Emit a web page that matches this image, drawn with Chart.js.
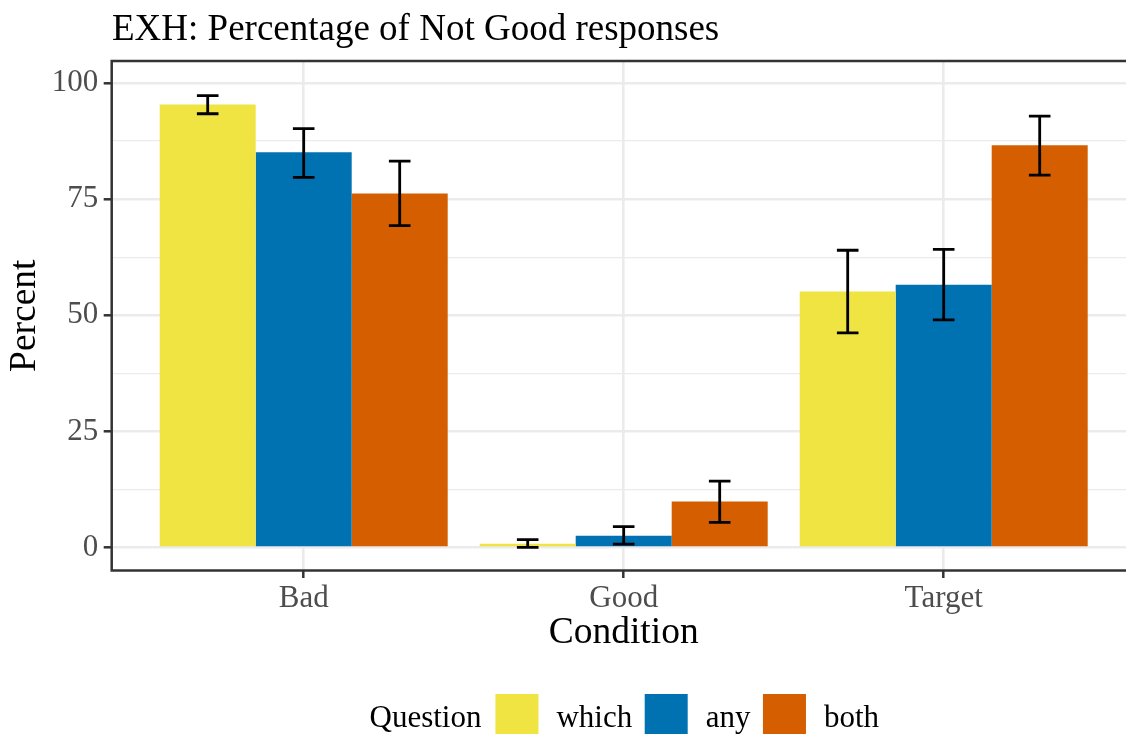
<!DOCTYPE html>
<html>
<head>
<meta charset="utf-8">
<script src="https://cdn.jsdelivr.net/npm/chart.js@4.4.1/dist/chart.umd.min.js"></script>
<style>
  html, body { margin: 0; padding: 0; background: #fff; overflow: hidden; }
  #wrap { position: relative; width: 1140px; height: 750px; }
</style>
</head>
<body>
<div id="wrap"><canvas id="exhChart"></canvas></div>
<script>
const conditions = ['Bad', 'Good', 'Target'];
const questions = ['which', 'any', 'both'];

// percent "Not Good" per condition, with lower / upper error limits
const whichPct = [95.4, 0.8, 55.1];
const whichLow = [93.4, 0.0, 46.2];
const whichHigh = [97.3, 1.7, 64.0];

const anyPct = [85.1, 2.5, 56.6];
const anyLow = [79.7, 0.7, 49.0];
const anyHigh = [90.2, 4.5, 64.2];

const bothPct = [76.2, 9.9, 86.6];
const bothLow = [69.3, 5.4, 80.2];
const bothHigh = [83.2, 14.3, 92.9];

const yTicks = [0, 12.5, 25, 37.5, 50, 62.5, 75, 87.5, 100];

const serif = '"Liberation Serif", "DejaVu Serif", serif';
const colors = ['#F0E442', '#0072B2', '#D55E00'];

function series(label, values, low, high, color) {
  return {
    label: label,
    data: values.map((v, i) => ({ x: i + 1, y: v })),
    errLow: low,
    errHigh: high,
    backgroundColor: color,
    borderWidth: 0,
    categoryPercentage: 0.9,
    barPercentage: 1.0
  };
}

const isMajor = (c) => !c.tick || c.tick.value % 25 === 0;

// black error bars with caps on top of every bar
const errorBars = {
  id: 'errorBars',
  afterDatasetsDraw(chart) {
    const ctx = chart.ctx;
    const y = chart.scales.y;
    ctx.save();
    ctx.strokeStyle = '#000';
    ctx.lineWidth = 2.8;
    ctx.lineCap = 'butt';
    chart.data.datasets.forEach((ds, i) => {
      chart.getDatasetMeta(i).data.forEach((bar, j) => {
        const top = y.getPixelForValue(ds.errHigh[j]);
        const bot = y.getPixelForValue(ds.errLow[j]);
        const half = 10.8;
        ctx.beginPath();
        ctx.moveTo(bar.x, top);
        ctx.lineTo(bar.x, bot);
        ctx.moveTo(bar.x - half, top);
        ctx.lineTo(bar.x + half, top);
        ctx.moveTo(bar.x - half, bot);
        ctx.lineTo(bar.x + half, bot);
        ctx.stroke();
      });
    });
    ctx.restore();
  }
};

// panel border, plot title and the horizontal legend below
const decorations = {
  id: 'decorations',
  afterDraw(chart) {
    const ctx = chart.ctx;
    const a = chart.chartArea;
    ctx.save();
    ctx.strokeStyle = '#333333';
    ctx.lineWidth = 2.5;
    ctx.strokeRect(a.left, a.top, a.right - a.left, a.bottom - a.top);

    ctx.fillStyle = '#000';
    ctx.textAlign = 'left';
    ctx.textBaseline = 'alphabetic';
    ctx.font = '37px ' + serif;
    ctx.fillText('EXH: Percentage of Not Good responses', 112, 40);

    ctx.font = '31px ' + serif;
    const keySize = 43;
    const keyTop = 694;
    const baseline = 727;
    let cx = 369.5;
    ctx.fillText('Question', cx, baseline);
    cx += ctx.measureText('Question').width + 14;
    chart.data.datasets.forEach((ds) => {
      ctx.fillStyle = ds.backgroundColor;
      ctx.fillRect(cx, keyTop, keySize, keySize);
      cx += keySize + 18;
      ctx.fillStyle = '#000';
      ctx.fillText(ds.label, cx, baseline);
      cx += ctx.measureText(ds.label).width + 12.5;
    });
    ctx.restore();
  }
};

new Chart(document.getElementById('exhChart'), {
  type: 'bar',
  data: {
    datasets: [
      series(questions[0], whichPct, whichLow, whichHigh, colors[0]),
      series(questions[1], anyPct, anyLow, anyHigh, colors[1]),
      series(questions[2], bothPct, bothLow, bothHigh, colors[2])
    ]
  },
  options: {
    responsive: true,
    maintainAspectRatio: false,
    animation: false,
    layout: { padding: { top: 61, left: 0, right: 4.3, bottom: 0 } },
    plugins: {
      legend: { display: false },
      title: { display: false },
      tooltip: { enabled: false }
    },
    scales: {
      x: {
        type: 'linear',
        min: 0.4,
        max: 3.6,
        offset: false,
        afterBuildTicks: (s) => { s.ticks = conditions.map((c, i) => ({ value: i + 1 })); },
        afterFit: (s) => { s.height = 179.5; },
        border: { display: false },
        grid: {
          offset: false,
          color: '#EBEBEB',
          lineWidth: 2.6,
          tickLength: 7.5,
          tickColor: '#333333',
          tickWidth: 2.5
        },
        ticks: {
          autoSkip: false,
          maxRotation: 0,
          padding: 4,
          color: '#4D4D4D',
          font: { family: serif, size: 31, lineHeight: 1.1 },
          callback: (v) => conditions[v - 1]
        },
        title: {
          display: true,
          text: 'Condition',
          color: '#000',
          font: { family: serif, size: 37.5, lineHeight: 1.2 },
          padding: { top: 0, bottom: 94 }
        }
      },
      y: {
        min: -4.96,
        max: 104.76,
        afterBuildTicks: (s) => { s.ticks = yTicks.map((v) => ({ value: v })); },
        afterFit: (s) => { s.width = 111.7; },
        border: { display: false },
        grid: {
          color: '#EBEBEB',
          lineWidth: (c) => (isMajor(c) ? 2.6 : 1.3),
          tickLength: 8,
          tickColor: (c) => (isMajor(c) ? '#333333' : 'rgba(0,0,0,0)'),
          tickWidth: 2.5
        },
        ticks: {
          autoSkip: false,
          padding: 5.4,
          color: '#4D4D4D',
          font: { family: serif, size: 31 },
          callback: (v) => (v % 25 === 0 ? v : '')
        },
        title: {
          display: true,
          text: 'Percent',
          color: '#000',
          font: { family: serif, size: 37.5, lineHeight: 1.2 },
          padding: { top: 3, bottom: 0 }
        }
      }
    }
  },
  plugins: [errorBars, decorations]
});
</script>
</body>
</html>
